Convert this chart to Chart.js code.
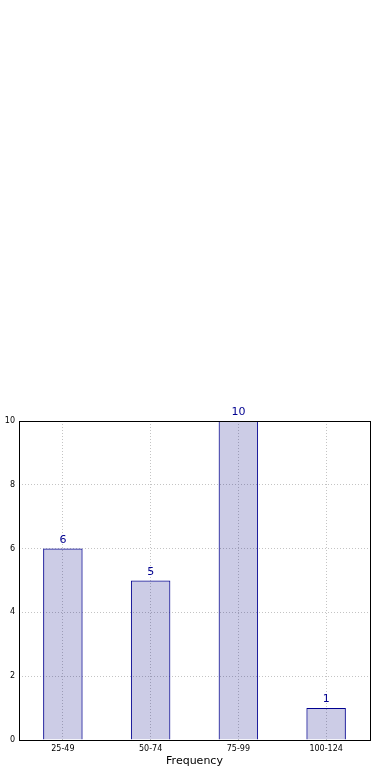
<!DOCTYPE html>
<html lang="en">
<head>
  <meta charset="UTF-8">
  <title>Frequency</title>
  <script src="https://cdn.jsdelivr.net/npm/chart.js"></script>
  <style>
    html, body { margin: 0; padding: 0; background: #fff; overflow: hidden; }
    body { width: 390px; height: 780px; position: relative; }
    /* canvas starts a bit left of the page so the y title is cut off like the original */
    .wrap { position: absolute; left: -9px; top: 400px; width: 399px; height: 380px; }
  </style>
</head>
<body>
  <div class="wrap"><canvas id="chart"></canvas></div>

  <script>
    // data
    const categories = ['25-49', '50-74', '75-99', '100-124'];
    const counts = [6, 5, 10, 1];
    const yTicks = [0, 2, 4, 6, 8, 10];

    const navy = '#000090';
    const font = 'DejaVu Sans, sans-serif';

    // labels on top of bars + black frame round the plot
    const extras = {
      id: 'extras',
      afterDatasetsDraw(chart) {
        const ctx = chart.ctx;
        const meta = chart.getDatasetMeta(0);
        ctx.save();
        ctx.fillStyle = navy;
        ctx.font = '11px ' + font;
        ctx.textAlign = 'center';
        ctx.textBaseline = 'bottom';
        meta.data.forEach((bar, i) => {
          ctx.fillText(String(counts[i]), bar.x, bar.y - 3);
        });
        const a = chart.chartArea;
        ctx.strokeStyle = '#000';
        ctx.lineWidth = 1;
        ctx.strokeRect(Math.round(a.left) + 0.5, Math.round(a.top) + 0.5,
          Math.round(a.right - a.left), Math.round(a.bottom - a.top));
        ctx.restore();
      }
    };

    new Chart(document.getElementById('chart'), {
      type: 'bar',
      data: {
        labels: categories,
        datasets: [{
          data: counts,
          backgroundColor: 'rgba(0, 0, 128, 0.2)',
          borderColor: navy,
          borderWidth: 1,
          barPercentage: 0.45,
          categoryPercentage: 1.0
        }]
      },
      options: {
        responsive: true,
        maintainAspectRatio: false,
        animation: false,
        layout: { padding: { top: 21, right: 20, left: 0, bottom: 12 } },
        plugins: {
          legend: { display: false },
          tooltip: { enabled: false }
        },
        scales: {
          x: {
            grid: { offset: false, color: '#c4c4c4', tickLength: 0, drawTicks: false },
            border: { display: false, dash: [1, 2] },
            ticks: { color: '#000', font: { family: font, size: 8 }, padding: 4 },
            title: { display: true, text: 'Frequency', color: '#000', font: { family: font, size: 11 }, padding: { top: 1, bottom: 0 } },
            afterFit(scale) { scale.height = 28; }
          },
          y: {
            min: 0,
            max: 10,
            afterBuildTicks(scale) { scale.ticks = yTicks.map(v => ({ value: v })); },
            grid: { color: '#c4c4c4', tickLength: 0, drawTicks: false },
            border: { display: false, dash: [1, 2] },
            ticks: { color: '#000', font: { family: font, size: 8 }, padding: 4 },
            title: { display: true, text: 'No. of Weeks', color: '#000', font: { family: font, size: 11 }, padding: { top: 0, bottom: 4 } },
            afterFit(scale) { scale.width = 28; }
          }
        }
      },
      plugins: [extras]
    });
  </script>
</body>
</html>
